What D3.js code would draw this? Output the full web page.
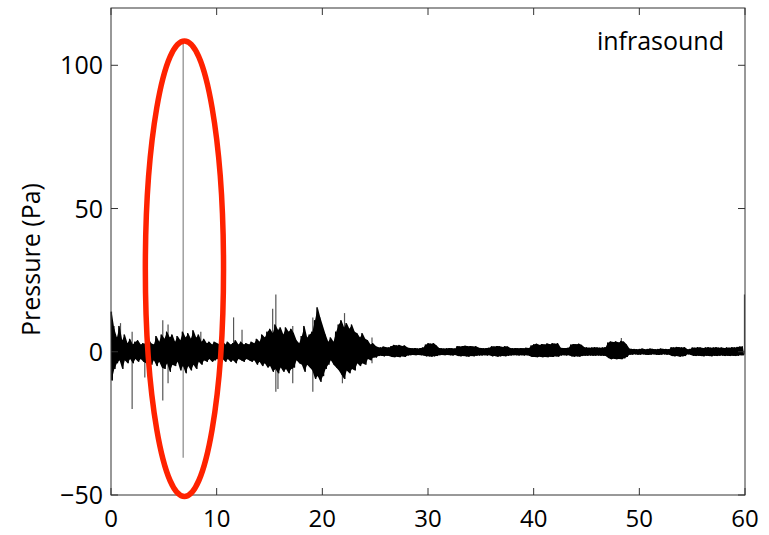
<!DOCTYPE html>
<html>
<head>
<meta charset="utf-8">
<script src="https://cdnjs.cloudflare.com/ajax/libs/d3/7.8.5/d3.min.js"></script>
<style>
  body { margin: 0; background: #fff; }
  text { font-family: "Open Sans", sans-serif; fill: #000; }
</style>
</head>
<body>
<div id="chart"></div>
<script>
var width = 769,
    height = 535;

// envelope of the trace, one bin every 0.25 s (Pa)
var binStep = 0.25;
var upper = [
  14, 8, 5, 9, 4, 6, 3, 4.5, 2.5, 3.5, 4, 2.5, 3, 2.5, 4.5, 3, 2.5, 5.5, 3.5, 6,
  4.5, 7, 5, 6, 3.5, 5.5, 4, 7, 5, 6.5, 4.5, 7.5, 5, 6, 3.5, 4.5, 3, 3.5, 2.5, 3.5,
  3, 2.5, 4, 2.5, 3.5, 2.5, 3, 4, 2.5, 3.5, 2.5, 3, 2.5, 3.5, 3, 4.5, 3.5, 6, 5, 7,
  8, 6.5, 9.5, 7.5, 8.5, 6, 8.5, 7, 8, 6.5, 4, 3, 5.5, 9, 5, 6, 7, 11, 15.5, 12,
  9, 6, 3.5, 5, 3.5, 7, 9.5, 11, 8.5, 10, 8, 9.5, 7, 6.5, 5, 6.5, 4.5, 4, 2.5, 3,
  2, 1.6, 1.5, 1.8, 1.6, 1.5, 2, 2.4, 2.2, 2.4, 2, 2.2, 1.5, 1.3, 1.2, 1.3, 1.1, 1.3, 1.5, 2.5,
  3, 2.8, 3, 2.2, 1.3, 1.2, 1.1, 1.2, 1.3, 1.2, 1.1, 2, 1.8, 2, 2.1, 1.9, 2, 1.8, 1.9, 1.4,
  1.3, 1.2, 1.3, 1.4, 1.9, 1.8, 2, 1.9, 1.7, 1.9, 1.8, 1.3, 1.2, 1.3, 1.2, 1.3, 1.2, 1.4, 1.3, 2.2,
  2.6, 2.8, 2.4, 2.7, 2.5, 2.9, 2.6, 3, 2.8, 3, 1.4, 1.3, 1.3, 1.4, 2.5, 2.7, 2.6, 2.8, 2.4, 1.6,
  1.5, 1.4, 1.5, 1.6, 1.5, 1.4, 1.5, 1.6, 3.2, 3.6, 3.4, 3.6, 3.2, 3.8, 3.5, 2.5, 1.1, 1, 1, 0.9,
  1, 1.1, 0.9, 1, 1.1, 1, 0.9, 1, 1.1, 1, 1, 0.9, 1.6, 1.5, 1.7, 1.6, 1.5, 1.6, 0.9, 1,
  1.5, 1.4, 1.6, 1.5, 1.3, 1.5, 1.6, 1.4, 1.5, 1.6, 1.4, 1.5, 1.3, 1.5, 1.4, 1.6, 1.5, 1.7, 1.8, 1.8
];
var lower = [
  -10, -6, -4, -3, -6, -3, -4, -2.5, -4, -2.5, -3.5, -2.5, -3.5, -4, -3, -4.5, -3, -5, -3.5, -5.5,
  -6, -4, -7, -4.5, -5, -3.5, -6.5, -5, -7.5, -5, -6.5, -4.5, -6, -3.5, -4.5, -3, -3.5, -2.5, -3.5, -3,
  -2.5, -3.5, -2.5, -3.5, -2.5, -3.5, -3, -4, -2.5, -3, -3.5, -2.5, -3, -3.5, -3, -4.5, -3.5, -5, -4, -5.5,
  -5, -7, -6, -7.5, -5.5, -7, -6, -7.5, -6, -5.5, -3, -4, -4.5, -7, -4.5, -5.5, -6.5, -9.5, -8.5, -10.5,
  -8.5, -6, -4.5, -3, -4.5, -5.5, -6.5, -8, -9.5, -6.5, -7.5, -6, -6.5, -4, -5, -4, -4.5, -2.5, -3, -2,
  -2, -1.5, -1.4, -1.6, -1.4, -1.5, -1.8, -1.9, -1.7, -1.9, -1.6, -1.8, -1.3, -1.2, -1.1, -1.2, -1.1, -1.2, -1.3, -1.6,
  -1.6, -1.7, -1.6, -1.5, -1.2, -1.1, -1.2, -1.1, -1.2, -1.3, -1.1, -1.5, -1.6, -1.5, -1.6, -1.7, -1.5, -1.6, -1.4, -1.3,
  -1.3, -1.2, -1.3, -1.2, -1.6, -1.5, -1.7, -1.6, -1.5, -1.6, -1.4, -1.3, -1.2, -1.2, -1.3, -1.2, -1.3, -1.2, -1.4, -1.8,
  -1.8, -1.9, -1.7, -1.9, -1.8, -1.9, -1.7, -1.8, -1.6, -1.7, -1.3, -1.2, -1.3, -1.2, -1.6, -1.7, -1.6, -1.7, -1.5, -1.4,
  -1.4, -1.3, -1.4, -1.4, -1.3, -1.4, -1.4, -1.5, -2.2, -2.6, -2.4, -2.6, -2.5, -2.6, -2.3, -1.8, -1, -1, -0.9, -1,
  -1, -0.9, -1, -1.1, -1, -0.9, -1, -1.1, -1, -0.9, -1, -1, -1.5, -1.6, -1.5, -1.7, -1.6, -1.5, -0.9, -1,
  -1.4, -1.5, -1.4, -1.5, -1.6, -1.4, -1.5, -1.6, -1.4, -1.5, -1.4, -1.3, -1.5, -1.4, -1.5, -1.4, -1.5, -1.4, -1.2, -1.3
];

// isolated spikes (time s, max Pa, min Pa)
var spikeT  = [0.05, 0.3, 0.9, 2.0, 3.2, 4.9, 5.4, 6.83, 8.5, 11.6, 12.4, 15.3, 15.6, 15.8, 17.2, 19.1, 21.9, 22.1, 24.7, 48.3, 59.95];
var spikeHi = [14, 9, 10, 7, 3, 11, 9.5, 108, 7, 12, 7.7, 15, 20, 8, 9, 12, 6, 13.5, 5, 4.8, 20];
var spikeLo = [-10, -6, -3, -20, -9, -17, -11, -37, -3, -2, -3, -6, -14, -13, -11, -14, -11, -5, -4, -2, -1];

var xTicks = [0, 10, 20, 30, 40, 50, 60];
var yTicks = [-50, 0, 50, 100];

// ellipse round the big spike (centre t, centre Pa, half-width s, half-height Pa)
var ring = [6.95, 29, 3.7, 79.5];

var margin = {top: 8, right: 24, bottom: 40, left: 111};

var svg = d3.select("#chart").append("svg")
    .attr("width", width)
    .attr("height", height);

var x = d3.scaleLinear().domain([0, 60]).range([margin.left, width - margin.right]);
var y = d3.scaleLinear().domain([-50, 120]).range([height - margin.bottom, margin.top]);

// spikes first, the black trace covers their middle part
svg.selectAll(".spike")
    .data(spikeT)
    .enter().append("line")
    .attr("class", "spike")
    .attr("x1", function(d) { return x(d); })
    .attr("x2", function(d) { return x(d); })
    .attr("y1", function(d, i) { return y(spikeHi[i]); })
    .attr("y2", function(d, i) { return y(spikeLo[i]); })
    .attr("stroke", function(d, i) { return spikeHi[i] > 50 ? "#888" : "#555"; })
    .attr("stroke-width", 1.2);

// solid band between the envelopes
var band = d3.area()
    .x(function(d, i) { return x(i * binStep + binStep / 4); })
    .y0(function(d, i) { return y(lower[i]); })
    .y1(function(d) { return y(d); });

svg.append("path")
    .datum(upper)
    .attr("d", band)
    .attr("fill", "#000");

// trace as a zig-zag between the envelope values (rough edges)
var pts = [];
upper.forEach(function(u, i) {
    pts.push([i * binStep, u]);
    pts.push([i * binStep + binStep / 2, lower[i]]);
});

var line = d3.line()
    .x(function(d) { return x(d[0]); })
    .y(function(d) { return y(d[1]); });

svg.append("path")
    .datum(pts)
    .attr("d", line)
    .attr("fill", "none")
    .attr("stroke", "#000")
    .attr("stroke-width", 1);

// axes box, ticks inward on all sides
var x0 = x.range()[0], x1 = x.range()[1],
    y0 = y.range()[0], y1 = y.range()[1];

svg.append("rect")
    .attr("x", x0).attr("y", y1)
    .attr("width", x1 - x0).attr("height", y0 - y1)
    .attr("fill", "none")
    .attr("stroke", "#333")
    .attr("stroke-width", 1);

var tickLen = 7;

xTicks.forEach(function(t) {
    svg.append("line")
        .attr("x1", x(t)).attr("x2", x(t))
        .attr("y1", y0).attr("y2", y0 - tickLen)
        .attr("stroke", "#333");
    svg.append("line")
        .attr("x1", x(t)).attr("x2", x(t))
        .attr("y1", y1).attr("y2", y1 + tickLen)
        .attr("stroke", "#333");
    svg.append("text")
        .attr("x", x(t))
        .attr("y", 527)
        .attr("text-anchor", "middle")
        .style("font-size", "24px")
        .text(t);
});

yTicks.forEach(function(v) {
    svg.append("line")
        .attr("x1", x0).attr("x2", x0 + tickLen)
        .attr("y1", y(v)).attr("y2", y(v))
        .attr("stroke", "#333");
    svg.append("line")
        .attr("x1", x1).attr("x2", x1 - tickLen)
        .attr("y1", y(v)).attr("y2", y(v))
        .attr("stroke", "#333");
    svg.append("text")
        .attr("x", x0 - 8)
        .attr("y", y(v))
        .attr("dy", "0.36em")
        .attr("text-anchor", "end")
        .style("font-size", "25px")
        .text(v < 0 ? "\u2212" + Math.abs(v) : v);
});

svg.append("text")
    .attr("transform", "translate(40," + ((y0 + y1) / 2 + 8) + ") rotate(-90)")
    .attr("text-anchor", "middle")
    .style("font-size", "25px")
    .text("Pressure (Pa)");

svg.append("text")
    .attr("x", 724)
    .attr("y", 50)
    .attr("text-anchor", "end")
    .style("font-size", "25px")
    .text("infrasound");

// red annotation ring
svg.append("ellipse")
    .attr("cx", x(ring[0]))
    .attr("cy", y(ring[1]))
    .attr("rx", x(ring[0] + ring[2]) - x(ring[0]))
    .attr("ry", y(ring[1]) - y(ring[1] + ring[3]))
    .attr("fill", "none")
    .attr("stroke", "#ff2200")
    .attr("stroke-width", 5.5);
</script>
</body>
</html>
